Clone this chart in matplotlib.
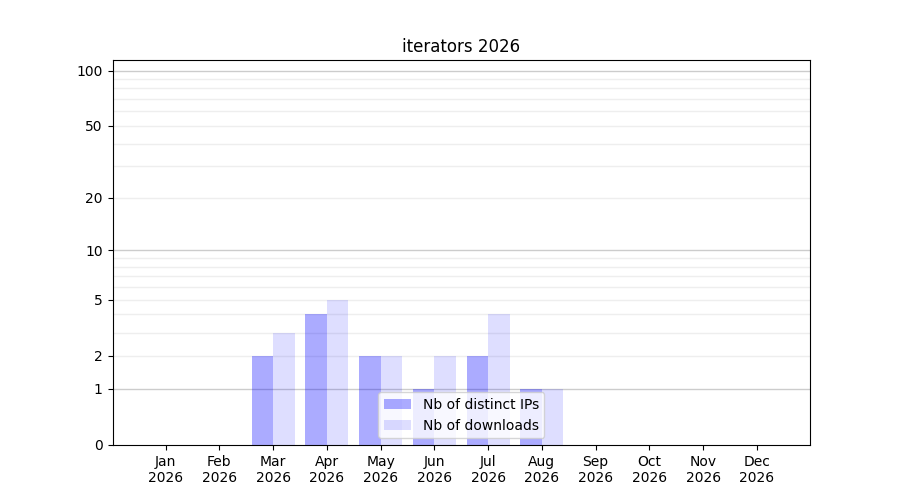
import numpy as np
import matplotlib
matplotlib.use("Agg")
import matplotlib.pyplot as plt

# monthly stats for 2026
months = ["Jan", "Feb", "Mar", "Apr", "May", "Jun",
          "Jul", "Aug", "Sep", "Oct", "Nov", "Dec"]
year = 2026
distinct_ips = [0, 0, 2, 4, 2, 1, 2, 1, 0, 0, 0, 0]
downloads = [0, 0, 3, 5, 2, 2, 4, 1, 0, 0, 0, 0]
y_ticks = [0, 1, 2, 5, 10, 20, 50, 100]

x = np.arange(1, len(months) + 1)
width = 0.4

fig, ax = plt.subplots(figsize=(9, 5), dpi=100)

ax.set_yscale("function", functions=(lambda v: np.log10(1 + np.maximum(v, 0)),
                                     lambda v: 10 ** v - 1))

# grid lines: strong on decades, faint in between
for dec in [1, 10, 100]:
    ax.axhline(dec, color="#cccccc", lw=1, zorder=0)
    for k in range(2, 10):
        ax.axhline(dec * k, color="#eeeeee", lw=1, zorder=0)

ax.bar(x - width / 2, distinct_ips, width, color="blue", alpha=0.33,
       label="Nb of distinct IPs", zorder=1)
ax.bar(x + width / 2, downloads, width, color="blue", alpha=0.13,
       label="Nb of downloads", zorder=1)

ax.set_yticks(y_ticks)
ax.set_yticklabels([str(t) for t in y_ticks])
ax.yaxis.set_minor_locator(matplotlib.ticker.NullLocator())
ax.set_ylim(0, 114)

ax.set_xticks(x)
ax.set_xticklabels([f"{m}\n{year}" for m in months])

ax.set_title(f"iterators {year}")
ax.legend(loc="lower center")

plt.savefig("out.png", dpi=100)
